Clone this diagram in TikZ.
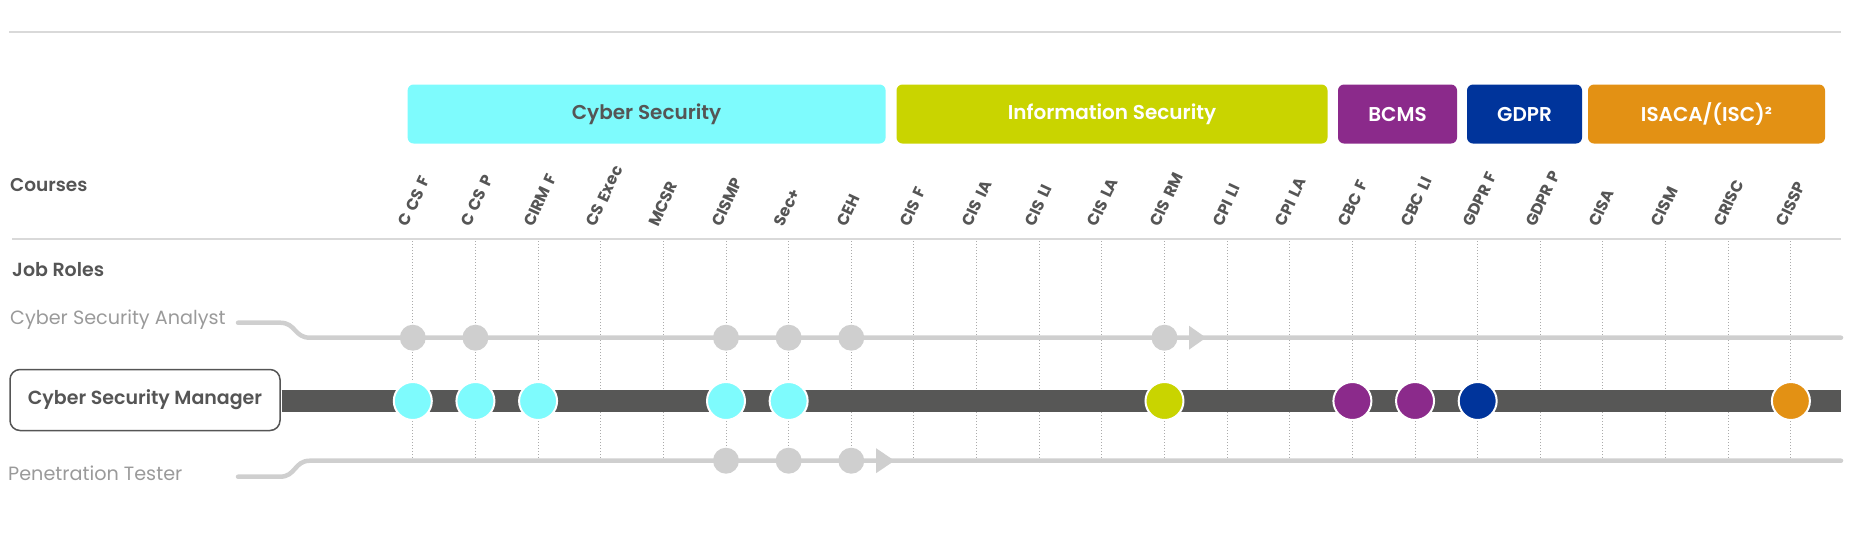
\documentclass[tikz,border=0pt]{standalone}
\usepackage{fontspec}
\setmainfont{Poppins}[BoldFont={Poppins SemiBold}]
\newfontfamily\coursefont{Poppins Bold}[WordSpace=1.5]
\usetikzlibrary{positioning,calc}

\definecolor{cybercol}{HTML}{7EFBFD}
\definecolor{infocol}{HTML}{C9D400}
\definecolor{bcmscol}{HTML}{8B2A8B}
\definecolor{gdprcol}{HTML}{00349B}
\definecolor{isacacol}{HTML}{E39114}
\definecolor{txtdark}{HTML}{555555}
\definecolor{txtgray}{HTML}{9A9A9A}
\definecolor{bargray}{HTML}{575756}
\definecolor{linegray}{HTML}{CFCFCF}
\definecolor{rulegray}{HTML}{D9D9D9}
\definecolor{guidegray}{HTML}{ABABAB}

\begin{document}
\begin{tikzpicture}[x=1pt, y=-1pt,
    catbox/.style={rounded corners=6pt, minimum height=59pt, inner sep=0pt, text=white, font=\fontsize{20}{24}\selectfont\bfseries},
    course/.style={rotate=65, anchor=base west, inner sep=0pt, text=txtdark, font=\fontsize{16}{18}\coursefont},
    head/.style={anchor=west, inner sep=0pt, text=txtdark, font=\fontsize{18.5}{22}\selectfont\bfseries},
    role/.style={anchor=west, inner sep=0pt, text=txtgray, font=\fontsize{19.2}{22}\selectfont},
    smalldot/.style={circle, fill=linegray, minimum size=26pt, inner sep=0pt},
    bigdot/.style={circle, draw=white, line width=2pt, minimum size=38pt, inner sep=0pt},
    track/.style={draw=linegray, line width=4.5pt, line cap=round},
    guide/.style={draw=guidegray, dotted, line width=1pt}]

    \useasboundingbox (0,0) rectangle (1850,550);

    % Rules
    \coordinate (topL) at (9,32);
    \coordinate (topR) at (1841,32);
    \coordinate (midL) at (12,239);
    \coordinate (midR) at (1841,239);
    \draw[rulegray, line width=1.5pt] (topL) -- (topR);
    \draw[rulegray, line width=1.5pt] (midL) -- (midR);

    % Categories
    \node[catbox, fill=cybercol, minimum width=478pt, text=txtdark] (cyber) at (646.6,114) {Cyber Security};
    \node[catbox, fill=infocol, minimum width=431pt] (info) at (1112,114) {Information Security};
    \node[catbox, fill=bcmscol, minimum width=119pt] (bcms) at (1397.5,114) {BCMS};
    \node[catbox, fill=gdprcol, minimum width=115pt] (gdpr) at (1524.5,114) {GDPR};
    \node[catbox, fill=isacacol, minimum width=237pt] (isaca) at (1706.5,114) {ISACA/(ISC)²};

    % Courses
    \node[head] (courses) at (10,185) {Courses};
    \node[head, font=\fontsize{19}{22}\selectfont\bfseries] (jobs) at (12,270) {Job Roles};
    \foreach \lab [count=\i from 0] in {C CS F, C CS P, CIRM F, CS Exec, MCSR, CISMP, Sec+, CEH,
        CIS F, CIS IA, CIS LI, CIS LA, CIS RM, CPI LI, CPI LA, CBC F, CBC LI, GDPR F, GDPR P,
        CISA, CISM, CRISC, CISSP} {
        \pgfmathsetmacro{\cx}{412.8+62.64*\i}
        \node[course] (c\i) at (\cx-5,228) {\lab};
        \coordinate (top\i) at (\cx,241);
        \coordinate (bot\i) at (\cx,458);
        \coordinate (an\i) at (\cx,337.7);
        \coordinate (mg\i) at (\cx,401);
        \coordinate (pt\i) at (\cx,460.7);
        \draw[guide] (top\i) -- (bot\i);
    }

    % Cyber Security Analyst
    \node[role] (analyst) at (10,320) {Cyber Security Analyst};
    \coordinate (as) at (238,322.7);
    \coordinate (ae) at (1841,337.7);
    \draw[track] (as) -- ++(42,0) .. controls +(16,0) and +(-16,0) .. ++(30,15) -- (ae);
    \fill[linegray] (1189,325.7) -- (1206,337.7) -- (1189,349.7) -- cycle;
    \foreach \i in {0,1,5,6,7,12}
        \node[smalldot] (ad\i) at (an\i) {};

    % Penetration Tester
    \node[role] (pentest) at (8,473) {Penetration Tester};
    \coordinate (ps) at (238,476.7);
    \coordinate (pe) at (1841,460.7);
    \draw[track] (ps) -- ++(42,0) .. controls +(16,0) and +(-16,0) .. ++(30,-16) -- (pe);
    \fill[linegray] (876,448.2) -- (894.6,460.7) -- (876,473.2) -- cycle;
    \foreach \i in {5,6,7}
        \node[smalldot] (pd\i) at (pt\i) {};

    % Cyber Security Manager
    \node[draw=txtdark, line width=1.5pt, fill=white, rounded corners=10pt, minimum width=270pt, minimum height=61pt,
        text=txtdark, font=\fontsize{19}{23}\selectfont\bfseries] (csm) at (145,400) {Cyber Security Manager};
    \coordinate (me) at (1841,401);
    \draw[bargray, line width=22pt, shorten <=0.75pt] (csm.east |- me) -- (me);
    \foreach \i/\col in {0/cybercol, 1/cybercol, 2/cybercol, 5/cybercol, 6/cybercol,
        12/infocol, 15/bcmscol, 16/bcmscol, 17/gdprcol, 22/isacacol}
        \node[bigdot, fill=\col] (md\i) at (mg\i) {};

\end{tikzpicture}
\end{document}
